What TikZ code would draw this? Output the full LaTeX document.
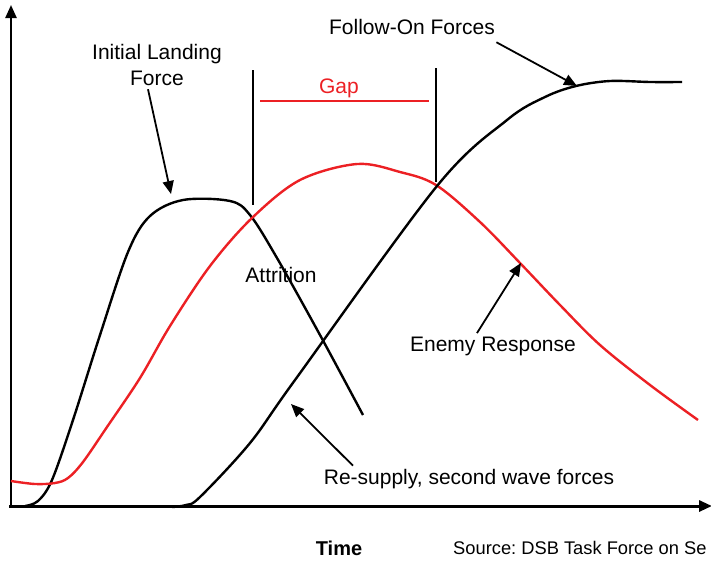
\documentclass[tikz,border=0pt]{standalone}
\usepackage{fontspec}
\setmainfont{Liberation Sans}
\usetikzlibrary{arrows.meta}

\definecolor{resp}{RGB}{236,32,36}
\frenchspacing

\begin{document}
\begin{tikzpicture}[x=1pt,y=-1pt,>={Triangle[length=13pt,width=11pt]},
                    every node/.style={font=\fontsize{21}{26}\selectfont},
                    curve/.style={line width=2.4pt,line join=round},
                    pointer/.style={->,line width=1.8pt,shorten >=0pt}]
  \useasboundingbox (0,0) rectangle (711,560);

  % axes
  \draw[->,line width=2.4pt] (11,507) -- (11,5);
  \draw[->,line width=3pt] (9,506) -- (712,506);

  % curves
  \draw[curve] plot[smooth,tension=0.55] coordinates {(25,506) (38,501) (52,480) (73,420) (100,335)
      (128,252) (150,216) (183,200) (230,201) (250,215) (277,258) (320,335) (363,415)};
  \draw[curve,resp] plot[smooth,tension=0.55] coordinates {(11,481) (35,484) (55,483) (68,478) (83,462)
      (107,427) (140,378) (170,326) (210,266) (252,218) (300,180) (357,164) (400,172) (436,185) (480,222)
      (520,263) (560,305) (600,345) (650,385) (698,420)};
  \draw[curve] plot[smooth,tension=0.55] coordinates {(172,507) (186,505) (200,497) (250,443) (295,380)
      (437,186) (507,120) (545,97) (576,86) (610,81) (650,82) (682,82)};

  % gap markers
  \coordinate (L1) at (253,70);  \coordinate (L2) at (253,205);
  \coordinate (R1) at (436,68);  \coordinate (R2) at (436,182);
  \coordinate (G1) at (260,101); \coordinate (G2) at (429,101);
  \draw[line width=1.8pt] (L1) -- (L2) (R1) -- (R2);
  \draw[resp,line width=1.8pt] (G1) -- (G2);

  % labels
  \node[align=center]     (A) at (157,65)  {Initial Landing\\Force};
  \node                   (B) at (412,27)  {Follow-On Forces};
  \node[text=resp]        (C) at (339,88)  {Gap};
  \node                   (D) at (281,275) {Attrition};
  \node                   (E) at (493,346) {Enemy Response};
  \node                   (F) at (469,479) {Re-supply, second wave forces};
  \node[font=\fontsize{20}{24}\selectfont\bfseries] (T) at (339,548) {Time};
  \node[anchor=west,inner sep=0pt,font=\fontsize{18.3}{22}\selectfont] (S) at (453,548) {Source: DSB Task Force on Se};

  % arrow tips on the curves
  \coordinate (tA) at (171,194);
  \coordinate (tB) at (577,86);
  \coordinate (tE) at (521,263);
  \coordinate (tF) at (291,404);

  \path[pointer]
        ([xshift=-9pt]A.south) edge (tA)
        ([xshift=-2pt,yshift=-4pt]B.south east) edge (tB)
        ([xshift=-16pt]E.north) edge (tE)
        ([xshift=-116pt]F.north) edge (tF);
\end{tikzpicture}
\end{document}
